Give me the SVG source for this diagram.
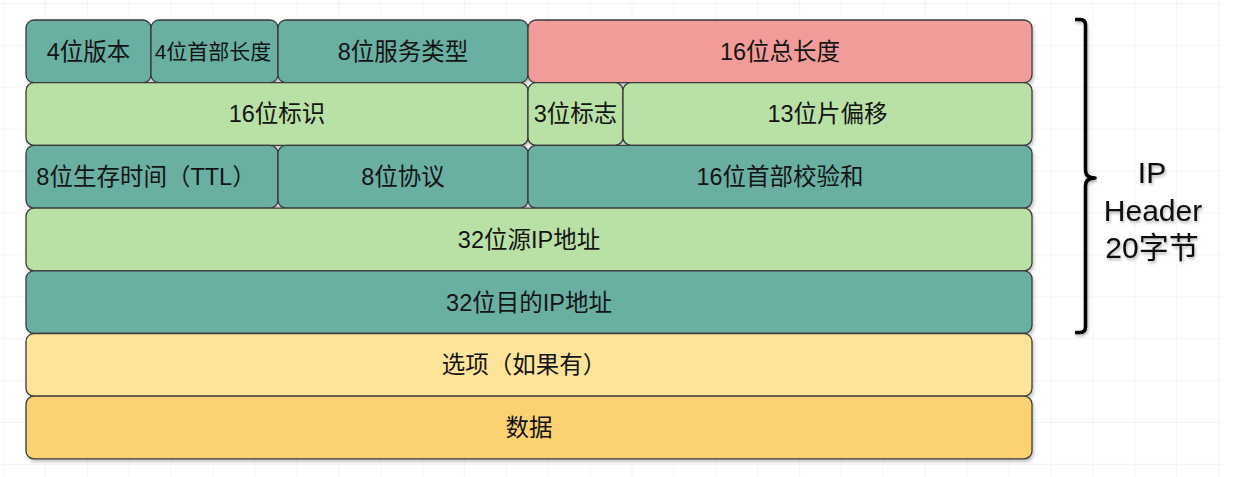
<svg xmlns="http://www.w3.org/2000/svg" width="1234" height="477" viewBox="0 0 1234 477">
  <defs>
    <pattern id="grid" x="3" y="3" width="41.9" height="41.9" patternUnits="userSpaceOnUse">
      <path d="M0 0H41.9M0 0V41.9" fill="none" stroke="#ececec" stroke-width="1"/>
    </pattern>
    <filter id="sh" x="-5%" y="-20%" width="110%" height="150%">
      <feDropShadow dx="1.5" dy="2.5" stdDeviation="1.5" flood-color="#000" flood-opacity="0.22"/>
    </filter>
    <filter id="tsh" x="-10%" y="-20%" width="120%" height="150%">
      <feDropShadow dx="1" dy="2" stdDeviation="1.5" flood-color="#000" flood-opacity="0.3"/>
    </filter>
  </defs>
  <style>
    .box { stroke: #3a3a3a; stroke-width: 1.3; filter: url(#sh); }
    .teal { fill: #69B0A3; }
    .green { fill: #B9E0A5; }
    .pink { fill: #F19C99; }
    .ly { fill: #FEE499; }
    .dy { fill: #FAD272; }
    .t { font-family: "Liberation Sans", "Noto Sans CJK SC", sans-serif; font-size: 23.5px; fill: #141414; text-anchor: middle; dominant-baseline: central; }
    .s { font-size: 21px; }
    .big { font-family: "Liberation Sans", "Noto Sans CJK SC", sans-serif; font-size: 30px; fill: #0d0d0d; text-anchor: middle; filter: url(#tsh); }
  </style>
  <rect width="1234" height="477" fill="#ffffff"/>
  <rect x="0" y="0" width="1222" height="477" fill="url(#grid)"/>

  <g id="version"><rect class="box teal" x="26" y="20" width="125" height="62.7" rx="8"/><text class="t" x="88.5" y="51.5">4位版本</text></g>
  <g id="ihl"><rect class="box teal" x="151" y="20" width="127" height="62.7" rx="8"/><text class="t s" x="213" y="51.5">4位首部长度</text></g>
  <g id="tos"><rect class="box teal" x="278" y="20" width="250" height="62.7" rx="8"/><text class="t" x="403" y="51.5">8位服务类型</text></g>
  <g id="total-length"><rect class="box pink" x="528" y="20" width="504" height="62.7" rx="8"/><text class="t" x="780" y="51.5">16位总长度</text></g>

  <g id="identification"><rect class="box green" x="26" y="82.7" width="502" height="62.7" rx="8"/><text class="t" x="277" y="114">16位标识</text></g>
  <g id="flags"><rect class="box green" x="528" y="82.7" width="95" height="62.7" rx="8"/><text class="t" x="575.5" y="114">3位标志</text></g>
  <g id="fragment-offset"><rect class="box green" x="623" y="82.7" width="409" height="62.7" rx="8"/><text class="t" x="827.5" y="114">13位片偏移</text></g>

  <g id="ttl"><rect class="box teal" x="26" y="145.4" width="252" height="62.7" rx="8"/><text class="t" x="146" y="177">8位生存时间（TTL）</text></g>
  <g id="protocol"><rect class="box teal" x="278" y="145.4" width="250" height="62.7" rx="8"/><text class="t" x="403" y="177">8位协议</text></g>
  <g id="checksum"><rect class="box teal" x="528" y="145.4" width="504" height="62.7" rx="8"/><text class="t" x="780" y="177">16位首部校验和</text></g>

  <g id="src-ip"><rect class="box green" x="26" y="208.1" width="1006" height="62.7" rx="8"/><text class="t" x="529" y="240">32位源IP地址</text></g>
  <g id="dst-ip"><rect class="box teal" x="26" y="270.8" width="1006" height="62.7" rx="8"/><text class="t" x="529" y="302.5">32位目的IP地址</text></g>
  <g id="options"><rect class="box ly" x="26" y="333.5" width="1006" height="62.7" rx="8"/><text class="t" x="524" y="365">选项（如果有）</text></g>
  <g id="data"><rect class="box dy" x="26" y="396.2" width="1006" height="62.7" rx="8"/><text class="t" x="529" y="428">数据</text></g>

  <g id="connectors">
    <path d="M1075 19.5 H1080 Q1085.5 19.5 1085.5 25 V170 Q1085.5 178 1095 178 Q1085.5 178 1085.5 186 V327 Q1085.5 332.5 1080 332.5 H1075" fill="none" stroke="#000" stroke-width="3.5" stroke-linejoin="round" filter="url(#tsh)"/>
  </g>
  <g id="header-label">
    <text class="big" x="1152" y="183">IP</text>
    <text class="big" x="1153" y="221">Header</text>
    <text class="big" x="1152" y="258">20字节</text>
  </g>
</svg>
